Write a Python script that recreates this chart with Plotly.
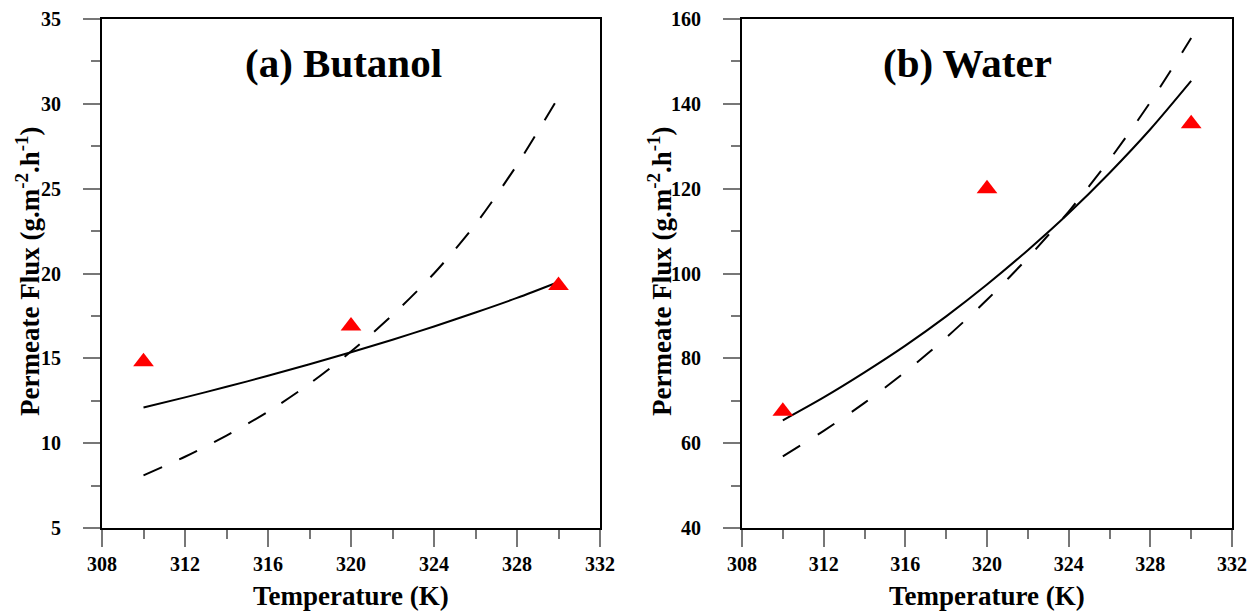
import plotly.graph_objects as go

# ---- data ----
temp_exp = [310, 320, 330]
butanol_exp = [14.8, 16.9, 19.3]
water_exp = [67.5, 120.0, 135.3]

temp_model = [310, 312, 314, 316, 318, 320, 322, 324, 326, 328, 330]
butanol_solid = [12.10, 12.70, 13.32, 13.97, 14.65, 15.36, 16.10, 16.88, 17.70, 18.56, 19.50]
butanol_dash = [8.1, 9.2, 10.45, 11.85, 13.5, 15.4, 17.55, 20.0, 22.9, 26.4, 30.4]
water_solid = [65.4, 70.8, 76.7, 83.0, 89.9, 97.4, 105.5, 114.2, 123.7, 134.0, 145.4]
water_dash = [56.9, 62.9, 69.5, 76.8, 84.9, 93.8, 103.7, 114.6, 126.8, 140.4, 155.5]

x_ticks = [308, 312, 316, 320, 324, 328, 332]
yb_ticks = [5, 10, 15, 20, 25, 30, 35]
yw_ticks = [40, 60, 80, 100, 120, 140, 160]

FONT = "Liberation Serif, Times New Roman, serif"
W, H = 1253, 611

fig = go.Figure()

def add_panel(xa, ya, solid, dash, exp, dash_pattern):
    fig.add_trace(go.Scatter(x=temp_model, y=solid, mode="lines",
                             line=dict(color="black", width=2, shape="spline", smoothing=0.8),
                             xaxis=xa, yaxis=ya, showlegend=False))
    fig.add_trace(go.Scatter(x=temp_model, y=dash, mode="lines",
                             line=dict(color="black", width=2, dash=dash_pattern, shape="spline", smoothing=0.8),
                             xaxis=xa, yaxis=ya, showlegend=False))
    fig.add_trace(go.Scatter(x=temp_exp, y=exp, mode="markers",
                             marker=dict(symbol="triangle-up", color="red", size=18),
                             xaxis=xa, yaxis=ya, showlegend=False))

add_panel("x", "y", butanol_solid, butanol_dash, butanol_exp, "20px,19px")
add_panel("x2", "y2", water_solid, water_dash, water_exp, "20px,21px")

ytop = (H - 19) / H
ybot = (H - 528) / H

common_axis = dict(
    showline=True, linecolor="black", linewidth=2, mirror=True,
    ticks="outside", ticklen=17, tickwidth=1.5, tickcolor="#777777",
    showgrid=False, zeroline=False, automargin=False,
    tickfont=dict(family=FONT, size=20, color="black", weight="bold"),
)
minor_style = dict(ticks="outside", ticklen=9, tickcolor="#777777", tickwidth=1.5)

fig.update_layout(
    width=W, height=H,
    margin=dict(l=0, r=0, t=0, b=0),
    paper_bgcolor="white", plot_bgcolor="white",
    xaxis=dict(domain=[102 / W, 600 / W], range=[308, 332], tickvals=x_ticks,
               minor=dict(dtick=2, **minor_style), anchor="y", **common_axis),
    yaxis=dict(domain=[ybot, ytop], range=[5, 35], tickvals=yb_ticks,
               minor=dict(dtick=2.5, **minor_style), anchor="x", ticklabelstandoff=18, **common_axis),
    xaxis2=dict(domain=[742 / W, 1232 / W], range=[308, 332], tickvals=x_ticks,
                minor=dict(dtick=2, **minor_style), anchor="y2", **common_axis),
    yaxis2=dict(domain=[ybot, ytop], range=[40, 160], tickvals=yw_ticks,
                minor=dict(dtick=10, **minor_style), anchor="x2", ticklabelstandoff=18, **common_axis),
)

ann = []
title_font = dict(family=FONT, size=41, color="black", weight="bold")
ann.append(dict(text="(a) Butanol", x=343 / W, y=(H - 63) / H, xref="paper", yref="paper",
                showarrow=False, font=title_font, xanchor="center", yanchor="middle"))
ann.append(dict(text="(b) Water", x=967 / W, y=(H - 63) / H, xref="paper", yref="paper",
                showarrow=False, font=title_font, xanchor="center", yanchor="middle"))
axt_font = dict(family=FONT, size=27, color="black", weight="bold")
for cx in (351, 987):
    ann.append(dict(text="Temperature (K)", x=cx / W, y=(H - 596) / H, xref="paper", yref="paper",
                    showarrow=False, font=axt_font, xanchor="center", yanchor="middle"))
yt_font = dict(family=FONT, size=27, color="black", weight="bold")
for cx in (28, 660):
    ann.append(dict(text="Permeate Flux (g.m<sup>-2</sup>.h<sup>-1</sup>)", x=cx / W, y=(H - 272) / H,
                    xref="paper", yref="paper", textangle=-90,
                    showarrow=False, font=yt_font, xanchor="center", yanchor="middle"))
fig.update_layout(annotations=ann)

fig.write_html("out.html")
